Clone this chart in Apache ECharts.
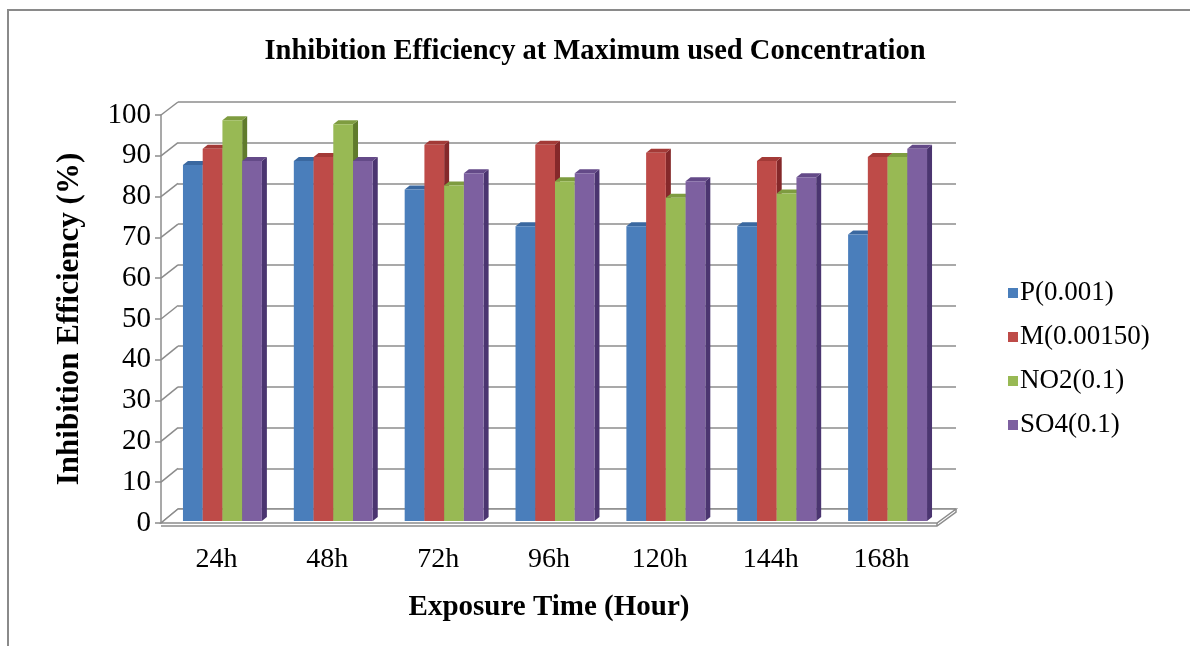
<!DOCTYPE html>
<html>
<head>
<meta charset="utf-8">
<script src="https://cdn.jsdelivr.net/npm/echarts@6/dist/echarts.min.js"></script>
<style>
html,body{margin:0;padding:0;background:#fff;}
#chart{width:1190px;height:646px;}
</style>
</head>
<body>
<div id="chart"></div>
<script>
// ---- data ----
const categories = ['24h', '48h', '72h', '96h', '120h', '144h', '168h'];
const seriesNames = ['P(0.001)', 'M(0.00150)', 'NO2(0.1)', 'SO4(0.1)'];
const P_vals   = [87, 88, 81, 72, 72, 72, 70];
const M_vals   = [91, 89, 92, 92, 90, 88, 89];
const NO2_vals = [98, 97, 82, 83, 79, 80, 89];
const SO4_vals = [88, 88, 85, 85, 83, 84, 91];
const yMin = 0, yMax = 100, yStep = 10;

// ---- styling ----
const FONT = '"Liberation Serif", "Times New Roman", serif';
const front = ['#4A7EBB', '#BE4B48', '#98B954', '#7D60A0'];
const topC  = ['#3A68A0', '#A33A37', '#7E9C40', '#644A88'];
const sideC = ['#2C5283', '#85282A', '#607B2C', '#4B3570'];
const GRID = '#8C8C8C';
const F = {left: 161, top: 115, width: 776, height: 408};
const B = {left: 178, top: 102, width: 778, height: 407};
const DX = 5, DY = 4;

const allVals = [P_vals, M_vals, NO2_vals, SO4_vals];
const chart = echarts.init(document.getElementById('chart'));

function makeSeries(k) {
  return {
    type: 'custom',
    name: seriesNames[k],
    xAxisIndex: 0, yAxisIndex: 0,
    itemStyle: {color: front[k]},
    z: 3 + k,
    data: allVals[k].map((v, i) => [i, v]),
    renderItem: function (params, api) {
      const ci = api.value(0), v = api.value(1);
      const p0 = api.coord([ci, 0]);
      const p1 = api.coord([ci, v]);
      const band = api.size([1, 0])[0];
      const bw = band * 0.178;
      const x = p0[0] + 6 + (k - 2) * bw;
      const yb = p0[1] - 2, yt = p1[1] - 3;
      return {
        type: 'group',
        children: [
          {type: 'polygon', shape: {points: [[x + bw, yt], [x + bw + DX, yt - DY], [x + bw + DX, yb - DY], [x + bw, yb]]}, style: {fill: sideC[k]}},
          {type: 'polygon', shape: {points: [[x, yt], [x + DX, yt - DY], [x + bw + DX, yt - DY], [x + bw, yt]]}, style: {fill: topC[k]}},
          {type: 'rect', shape: {x: x, y: yt, width: bw, height: yb - yt}, style: {fill: front[k]}}
        ]
      };
    }
  };
}

const option = {
  backgroundColor: '#fff',
  animation: false,
  title: {
    text: 'Inhibition Efficiency at Maximum used Concentration',
    left: 'center', top: 32,
    textStyle: {fontFamily: FONT, fontWeight: 'bold', fontSize: 28.5, color: '#000'}
  },
  legend: {
    orient: 'vertical', left: 1003, top: 273,
    itemWidth: 10, itemHeight: 10, itemGap: 14, icon: 'rect',
    textStyle: {fontFamily: FONT, fontSize: 27, color: '#000', lineHeight: 30, padding: [0, 0, 0, -3]},
    data: seriesNames
  },
  grid: [
    Object.assign({containLabel: false}, F),
    Object.assign({containLabel: false}, B)
  ],
  xAxis: [
    {type: 'category', gridIndex: 0, data: categories,
     axisLine: {show: false}, axisTick: {show: false},
     axisLabel: {fontFamily: FONT, fontSize: 28, color: '#000', margin: 23},
     name: 'Exposure Time (Hour)', nameLocation: 'middle', nameGap: 70,
     nameTextStyle: {fontFamily: FONT, fontWeight: 'bold', fontSize: 29, color: '#000'}},
    {type: 'category', gridIndex: 1, data: categories, show: false}
  ],
  yAxis: [
    {type: 'value', gridIndex: 0, min: yMin, max: yMax, interval: yStep,
     axisLine: {show: true, lineStyle: {color: GRID, width: 1.5}},
     axisTick: {show: true, length: 6, lineStyle: {color: GRID, width: 1.5}},
     splitLine: {show: false},
     axisLabel: {fontFamily: FONT, fontSize: 29, color: '#000', margin: 10},
     name: 'Inhibition Efficiency (%)', nameLocation: 'middle', nameGap: 76, nameRotate: 90,
     nameTextStyle: {fontFamily: FONT, fontWeight: 'bold', fontSize: 31, color: '#000'}},
    {type: 'value', gridIndex: 1, min: yMin, max: yMax, interval: yStep,
     axisLine: {show: false}, axisTick: {show: false}, axisLabel: {show: false},
     splitLine: {show: true, lineStyle: {color: GRID, width: 1.5}}}
  ],
  series: [0, 1, 2, 3].map(makeSeries)
};
chart.setOption(option);

// side-wall connectors, floor and frame
const g = [];
for (let v = yMin; v <= yMax; v += yStep) {
  const yf = chart.convertToPixel({yAxisIndex: 0}, v);
  const yb = chart.convertToPixel({yAxisIndex: 1}, v);
  g.push({type: 'line', z: 1, shape: {x1: F.left, y1: yf, x2: B.left, y2: yb}, style: {stroke: GRID, lineWidth: 1.5}});
}
const yf0 = chart.convertToPixel({yAxisIndex: 0}, 0);
const yb0 = chart.convertToPixel({yAxisIndex: 1}, 0);
const fr = F.left + F.width, br = B.left + B.width;
g.push({type: 'polygon', z: 1, shape: {points: [[F.left, yf0], [B.left, yb0], [br, yb0], [fr, yf0]]}, style: {fill: '#fff', stroke: GRID, lineWidth: 1.5}});
g.push({type: 'polyline', z: 1, shape: {points: [[F.left, yf0 + 3], [fr, yf0 + 3], [br, yb0 + 3], [br, yb0]]}, style: {fill: null, stroke: GRID, lineWidth: 1.5}});
g.push({type: 'line', z: 1, shape: {x1: fr, y1: yf0, x2: fr, y2: yf0 + 3}, style: {stroke: GRID, lineWidth: 1.5}});
// outer frame
g.push({type: 'polyline', z: 1, shape: {points: [[8, 646], [8, 10], [1190, 10]]}, style: {fill: null, stroke: '#8A8A8A', lineWidth: 2}});
chart.setOption({graphic: g});
</script>
</body>
</html>
